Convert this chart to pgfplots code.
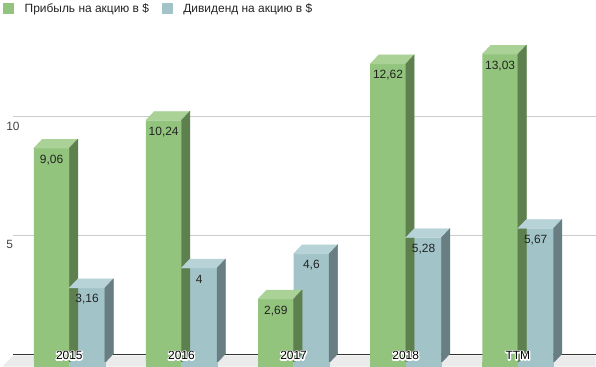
\documentclass[border=0pt]{standalone}
\usepackage{pgfplots}
\pgfplotsset{compat=1.18}
\usepackage{fontspec}
\setmainfont{Liberation Sans}
\definecolor{gfront}{RGB}{147,196,125}
\definecolor{gtop}{RGB}{170,209,150}
\definecolor{gside}{RGB}{94,128,79}
\definecolor{bfront}{RGB}{162,196,201}
\definecolor{btop}{RGB}{184,211,215}
\definecolor{bside}{RGB}{104,126,130}
\definecolor{gridc}{RGB}{204,204,204}
\definecolor{floorc}{RGB}{235,235,235}
\definecolor{txt}{RGB}{34,34,34}
\definecolor{ticktxt}{RGB}{68,68,68}
\pgfdeclareplotmark{nothing}{}
% black text with a white outline: stroked white copy, then the filled text
\newcommand\hl[1]{\makebox[0pt][l]{\special{pdf:literal 1 Tr 2.4 w 1 j 1 1 1 RG}#1\special{pdf:literal 0 Tr}}#1}
% top face, side face and lower part of the front face, drawn at each data point
\newcommand\topside[4]{%
  \pgfmathsetmacro\H{\v*23.7}%
  \fill[#1] ({(#4-17.8)*1bp},0bp) -- ({(#4+17.8)*1bp},0bp) -- ({(#4+26.3)*1bp},9bp) -- ({(#4-9.3)*1bp},9bp) -- cycle;
  \fill[#2] ({(#4+17.8)*1bp},0bp) -- ({(#4+26.3)*1bp},9bp) -- ({(#4+26.3)*1bp},{9bp-\H*1bp}) -- ({(#4+17.8)*1bp},{-\H*1bp}) -- cycle;
  \fill[#3] ({(#4-17.8)*1bp},{-\H*1bp+0.5bp}) rectangle ({(#4+17.8)*1bp},{-\H*1bp-3.9bp});
}
\pgfplotstableread{
x y
0 9.06
1 10.24
2 2.69
3 12.62
4 13.03
}\profit
\pgfplotstableread{
x y
0 3.16
1 4
2 4.6
3 5.28
4 5.67
}\dividend
\pgfplotsset{/pgf/number format/use comma, /pgf/number format/assume math mode=true}
\begin{document}
\begin{tikzpicture}
\begin{axis}[
  set layers=axis on top,
  x=112.25bp, y=23.7bp,
  xmin=-0.6174, xmax=4.6922, ymin=-0.1688, ymax=15.316,
  axis line style={draw=none},
  major tick length=0pt,
  clip=false,
  axis on top,
  xtick={0,1,2,3,4},
  xticklabels={\hl{2015},\hl{2016},\hl{2017},\hl{2018},\hl{TTM}},
  xticklabel style={anchor=base, yshift=7bp, inner sep=0pt, font=\fontsize{12}{14}\selectfont, text=black},
  ytick={5,10},
  yticklabel style={anchor=west, xshift=6bp, inner sep=0pt, font=\fontsize{12}{14}\selectfont, text=ticktxt},
  legend columns=2,
  legend cell align=left,
  legend style={at={(rel axis cs:0,1)}, anchor=north west, xshift=3bp, yshift=-3bp,
    draw=none, fill=none, inner sep=0pt, nodes={inner sep=0pt, text depth=0pt},
    font=\fontsize{12}{14}\selectfont, text=txt,
    /tikz/every odd column/.style={column sep=11bp},
    /tikz/every even column/.style={column sep=13bp}},
]
\addlegendimage{legend image code/.code={\fill[gfront] (0bp,-5bp) rectangle (10bp,5bp);}}
\addlegendentry{Прибыль на акцию в \$}
\addlegendimage{legend image code/.code={\fill[bfront] (0bp,-5bp) rectangle (10bp,5bp);}}
\addlegendentry{Дивиденд на акцию в \$}

% floor, grid lines and base line (back plane)
\fill[floorc] (axis cs:-0.5016,0.2954) -- (axis cs:4.6922,0.2954) -- (axis cs:4.6922,-0.1688) -- (axis cs:-0.5996,-0.1688) -- cycle;
\draw[gridc, line width=1bp] ([yshift=9bp]axis cs:-0.5016,5) -- ([yshift=9bp]axis cs:4.6922,5);
\draw[gridc, line width=1bp] ([yshift=9bp]axis cs:-0.5016,10) -- ([yshift=9bp]axis cs:4.6922,10);
\draw[black!80, line width=1bp] (axis cs:-0.5016,0.35) -- (axis cs:4.6922,0.35);

% profit
\addplot[forget plot, ybar, bar width=35.6bp, bar shift=-17.8bp, fill=gfront, draw=none,
  nodes near coords,
  every node near coord/.append style={anchor=base, xshift=-17.8bp, yshift=-15bp, font=\fontsize{12}{14}\selectfont, text=txt}]
  table[x=x, y=y] {\profit};
\addplot[forget plot, scatter, only marks, mark=nothing,
  visualization depends on={\thisrow{y} \as \v},
  scatter/@pre marker code/.code={\topside{gtop}{gside}{gfront}{-17.8}},
  scatter/@post marker code/.code={}]
  table[x=x, y=y] {\profit};

% dividend
\addplot[forget plot, ybar, bar width=35.6bp, bar shift=17.8bp, fill=bfront, draw=none,
  nodes near coords,
  every node near coord/.append style={anchor=base, xshift=17.8bp, yshift=-15bp, font=\fontsize{12}{14}\selectfont, text=txt}]
  table[x=x, y=y] {\dividend};
\addplot[forget plot, scatter, only marks, mark=nothing,
  visualization depends on={\thisrow{y} \as \v},
  scatter/@pre marker code/.code={\topside{btop}{bside}{bfront}{17.8}},
  scatter/@post marker code/.code={}]
  table[x=x, y=y] {\dividend};
\end{axis}
\end{tikzpicture}
\end{document}
